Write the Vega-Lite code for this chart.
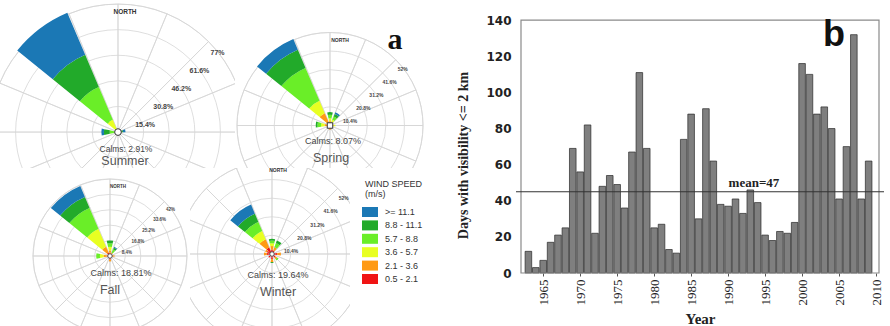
{
"$schema": "https://vega.github.io/schema/vega-lite/v6.json",
"padding": 0,
"config": {"view": {"stroke": null}, "font": "Liberation Sans",
 "axisY": {"tickCount": 8, "labelOverlap": false, "labelFlush": false, "labelFont": "DejaVu Sans", "labelFontWeight": "bold", "labelFontSize": 12, "labelColor": "#222", "labelPadding": 5, "ticks": false, "domain": false, "grid": false, "titleFont": "Liberation Serif", "titleFontWeight": "bold", "titleFontSize": 14, "titleColor": "#222", "titlePadding": 15, "titleY": 155},
 "axisX": {"tickCount": 10, "format": "d", "labelAngle": -90, "labelFont": "Liberation Serif", "labelFontSize": 13, "labelColor": "#222", "labelPadding": 3, "labelFlush": false, "labelOverlap": false, "ticks": true, "tickSize": 3, "tickColor": "#555", "domain": false, "grid": false, "titleFont": "Liberation Serif", "titleFontSize": 15, "titleFontWeight": "bold", "titleColor": "#222", "titlePadding": 6}
},
"datasets": {
"spokes": [{"a0":0,"a1":22.5},{"a0":22.5,"a1":45},{"a0":45,"a1":67.5},{"a0":67.5,"a1":90},{"a0":90,"a1":112.5},{"a0":112.5,"a1":135},{"a0":135,"a1":157.5},{"a0":157.5,"a1":180},{"a0":180,"a1":202.5},{"a0":202.5,"a1":225},{"a0":225,"a1":247.5},{"a0":247.5,"a1":270},{"a0":270,"a1":292.5},{"a0":292.5,"a1":315},{"a0":315,"a1":337.5},{"a0":337.5,"a1":360}],
"rings": [
{"s":"Summer","r":15.4,"lbl":"15.4%"},{"s":"Summer","r":30.8,"lbl":"30.8%"},{"s":"Summer","r":46.2,"lbl":"46.2%"},{"s":"Summer","r":61.6,"lbl":"61.6%"},{"s":"Summer","r":77,"lbl":"77%"},
{"s":"Spring","r":10.4,"lbl":"10.4%"},{"s":"Spring","r":20.8,"lbl":"20.8%"},{"s":"Spring","r":31.2,"lbl":"31.2%"},{"s":"Spring","r":41.6,"lbl":"41.6%"},{"s":"Spring","r":52,"lbl":"52%"},
{"s":"Fall","r":8.4,"lbl":"8.4%"},{"s":"Fall","r":16.8,"lbl":"16.8%"},{"s":"Fall","r":25.2,"lbl":"25.2%"},{"s":"Fall","r":33.6,"lbl":"33.6%"},{"s":"Fall","r":42,"lbl":"42%"},
{"s":"Winter","r":10.4,"lbl":"10.4%"},{"s":"Winter","r":20.8,"lbl":"20.8%"},{"s":"Winter","r":31.2,"lbl":"31.2%"},{"s":"Winter","r":41.6,"lbl":"41.6%"},{"s":"Winter","r":52,"lbl":"52%"}],
"rose": [
{"s":"Summer","a0":309,"a1":337,"c":"2.1 - 3.6","r0":0,"r1":1.5},
{"s":"Summer","a0":309,"a1":337,"c":"3.6 - 5.7","r0":1.5,"r1":8},
{"s":"Summer","a0":309,"a1":337,"c":"5.7 - 8.8","r0":8,"r1":29.5},
{"s":"Summer","a0":309,"a1":337,"c":"8.8 - 11.1","r0":29.5,"r1":50.5},
{"s":"Summer","a0":309,"a1":337,"c":">= 11.1","r0":50.5,"r1":78},
{"s":"Summer","a0":258,"a1":282,"c":"3.6 - 5.7","r0":0,"r1":2},
{"s":"Summer","a0":258,"a1":282,"c":"5.7 - 8.8","r0":2,"r1":5},
{"s":"Summer","a0":258,"a1":282,"c":"8.8 - 11.1","r0":5,"r1":8.5},
{"s":"Summer","a0":258,"a1":282,"c":">= 11.1","r0":8.5,"r1":10},
{"s":"Summer","a0":68,"a1":92,"c":"5.7 - 8.8","r0":0,"r1":2},
{"s":"Summer","a0":68,"a1":92,"c":"8.8 - 11.1","r0":2,"r1":3},
{"s":"Summer","a0":68,"a1":92,"c":">= 11.1","r0":3,"r1":4.5},
{"s":"Spring","a0":309,"a1":337,"c":"0.5 - 2.1","r0":0,"r1":1},
{"s":"Spring","a0":309,"a1":337,"c":"2.1 - 3.6","r0":1,"r1":7.5},
{"s":"Spring","a0":309,"a1":337,"c":"3.6 - 5.7","r0":7.5,"r1":15},
{"s":"Spring","a0":309,"a1":337,"c":"5.7 - 8.8","r0":15,"r1":35},
{"s":"Spring","a0":309,"a1":337,"c":"8.8 - 11.1","r0":35,"r1":46},
{"s":"Spring","a0":309,"a1":337,"c":">= 11.1","r0":46,"r1":52.5},
{"s":"Spring","a0":-12,"a1":12,"c":"0.5 - 2.1","r0":0,"r1":1},
{"s":"Spring","a0":-12,"a1":12,"c":"2.1 - 3.6","r0":1,"r1":2.5},
{"s":"Spring","a0":-12,"a1":12,"c":"3.6 - 5.7","r0":2.5,"r1":4},
{"s":"Spring","a0":-12,"a1":12,"c":"5.7 - 8.8","r0":4,"r1":6},
{"s":"Spring","a0":-12,"a1":12,"c":"8.8 - 11.1","r0":6,"r1":7.5},
{"s":"Spring","a0":22,"a1":44,"c":"2.1 - 3.6","r0":0,"r1":2},
{"s":"Spring","a0":22,"a1":44,"c":"3.6 - 5.7","r0":2,"r1":3.5},
{"s":"Spring","a0":22,"a1":44,"c":"5.7 - 8.8","r0":3.5,"r1":5.5},
{"s":"Spring","a0":22,"a1":44,"c":"8.8 - 11.1","r0":5.5,"r1":7},
{"s":"Spring","a0":22,"a1":44,"c":">= 11.1","r0":7,"r1":8},
{"s":"Spring","a0":262,"a1":286,"c":"2.1 - 3.6","r0":0,"r1":3},
{"s":"Spring","a0":262,"a1":286,"c":"3.6 - 5.7","r0":3,"r1":5},
{"s":"Spring","a0":262,"a1":286,"c":"5.7 - 8.8","r0":5,"r1":7},
{"s":"Spring","a0":262,"a1":286,"c":"8.8 - 11.1","r0":7,"r1":8},
{"s":"Spring","a0":80,"a1":100,"c":"2.1 - 3.6","r0":0,"r1":2},
{"s":"Spring","a0":80,"a1":100,"c":"3.6 - 5.7","r0":2,"r1":3},
{"s":"Spring","a0":170,"a1":190,"c":"0.5 - 2.1","r0":0,"r1":1.5},
{"s":"Spring","a0":170,"a1":190,"c":"2.1 - 3.6","r0":1.5,"r1":2.5},
{"s":"Fall","a0":309,"a1":337,"c":"0.5 - 2.1","r0":0,"r1":2},
{"s":"Fall","a0":309,"a1":337,"c":"2.1 - 3.6","r0":2,"r1":5.5},
{"s":"Fall","a0":309,"a1":337,"c":"3.6 - 5.7","r0":5.5,"r1":16},
{"s":"Fall","a0":309,"a1":337,"c":"5.7 - 8.8","r0":16,"r1":28.5},
{"s":"Fall","a0":309,"a1":337,"c":"8.8 - 11.1","r0":28.5,"r1":35},
{"s":"Fall","a0":309,"a1":337,"c":">= 11.1","r0":35,"r1":41.5},
{"s":"Fall","a0":-12,"a1":12,"c":"0.5 - 2.1","r0":0,"r1":1.5},
{"s":"Fall","a0":-12,"a1":12,"c":"2.1 - 3.6","r0":1.5,"r1":3},
{"s":"Fall","a0":-12,"a1":12,"c":"3.6 - 5.7","r0":3,"r1":5},
{"s":"Fall","a0":-12,"a1":12,"c":"5.7 - 8.8","r0":5,"r1":7},
{"s":"Fall","a0":-12,"a1":12,"c":"8.8 - 11.1","r0":7,"r1":8.5},
{"s":"Fall","a0":25,"a1":45,"c":"2.1 - 3.6","r0":0,"r1":2},
{"s":"Fall","a0":25,"a1":45,"c":"5.7 - 8.8","r0":2,"r1":4},
{"s":"Fall","a0":25,"a1":45,"c":"8.8 - 11.1","r0":4,"r1":5},
{"s":"Fall","a0":25,"a1":45,"c":">= 11.1","r0":5,"r1":5.5},
{"s":"Fall","a0":258,"a1":282,"c":"0.5 - 2.1","r0":0,"r1":1.5},
{"s":"Fall","a0":258,"a1":282,"c":"2.1 - 3.6","r0":1.5,"r1":3.5},
{"s":"Fall","a0":258,"a1":282,"c":"3.6 - 5.7","r0":3.5,"r1":5.5},
{"s":"Fall","a0":258,"a1":282,"c":"5.7 - 8.8","r0":5.5,"r1":7.5},
{"s":"Fall","a0":168,"a1":192,"c":"0.5 - 2.1","r0":0,"r1":2},
{"s":"Fall","a0":168,"a1":192,"c":"2.1 - 3.6","r0":2,"r1":3},
{"s":"Fall","a0":80,"a1":100,"c":"0.5 - 2.1","r0":0,"r1":1.5},
{"s":"Fall","a0":80,"a1":100,"c":"2.1 - 3.6","r0":1.5,"r1":2.5},
{"s":"Winter","a0":309,"a1":337,"c":"0.5 - 2.1","r0":0,"r1":4},
{"s":"Winter","a0":309,"a1":337,"c":"2.1 - 3.6","r0":4,"r1":9},
{"s":"Winter","a0":309,"a1":337,"c":"3.6 - 5.7","r0":9,"r1":14},
{"s":"Winter","a0":309,"a1":337,"c":"5.7 - 8.8","r0":14,"r1":19.5},
{"s":"Winter","a0":309,"a1":337,"c":"8.8 - 11.1","r0":19.5,"r1":24.5},
{"s":"Winter","a0":309,"a1":337,"c":">= 11.1","r0":24.5,"r1":30},
{"s":"Winter","a0":-12,"a1":12,"c":"0.5 - 2.1","r0":0,"r1":2.5},
{"s":"Winter","a0":-12,"a1":12,"c":"2.1 - 3.6","r0":2.5,"r1":4.5},
{"s":"Winter","a0":-12,"a1":12,"c":"3.6 - 5.7","r0":4.5,"r1":6},
{"s":"Winter","a0":-12,"a1":12,"c":"5.7 - 8.8","r0":6,"r1":7.5},
{"s":"Winter","a0":-12,"a1":12,"c":"8.8 - 11.1","r0":7.5,"r1":8.5},
{"s":"Winter","a0":20,"a1":42,"c":"0.5 - 2.1","r0":0,"r1":2},
{"s":"Winter","a0":20,"a1":42,"c":"2.1 - 3.6","r0":2,"r1":4},
{"s":"Winter","a0":20,"a1":42,"c":"5.7 - 8.8","r0":4,"r1":6.5},
{"s":"Winter","a0":20,"a1":42,"c":"8.8 - 11.1","r0":6.5,"r1":8},
{"s":"Winter","a0":80,"a1":100,"c":"0.5 - 2.1","r0":0,"r1":3},
{"s":"Winter","a0":80,"a1":100,"c":"2.1 - 3.6","r0":3,"r1":5},
{"s":"Winter","a0":125,"a1":145,"c":"0.5 - 2.1","r0":0,"r1":2.5},
{"s":"Winter","a0":125,"a1":145,"c":"2.1 - 3.6","r0":2.5,"r1":3.5},
{"s":"Winter","a0":125,"a1":145,"c":"5.7 - 8.8","r0":3.5,"r1":4.5},
{"s":"Winter","a0":170,"a1":190,"c":"0.5 - 2.1","r0":0,"r1":3},
{"s":"Winter","a0":170,"a1":190,"c":"2.1 - 3.6","r0":3,"r1":4.5},
{"s":"Winter","a0":170,"a1":190,"c":"8.8 - 11.1","r0":4.5,"r1":5},
{"s":"Winter","a0":215,"a1":235,"c":"0.5 - 2.1","r0":0,"r1":2.5},
{"s":"Winter","a0":260,"a1":280,"c":"0.5 - 2.1","r0":0,"r1":3},
{"s":"Winter","a0":260,"a1":280,"c":"2.1 - 3.6","r0":3,"r1":4.5},
{"s":"Winter","a0":288,"a1":306,"c":"0.5 - 2.1","r0":0,"r1":3},
{"s":"Winter","a0":288,"a1":306,"c":"2.1 - 3.6","r0":3,"r1":4}],
"bars": [
{"year":1963,"days":12},{"year":1964,"days":3},{"year":1965,"days":7},{"year":1966,"days":17},{"year":1967,"days":21},{"year":1968,"days":25},{"year":1969,"days":69},{"year":1970,"days":56},{"year":1971,"days":82},{"year":1972,"days":22},{"year":1973,"days":48},{"year":1974,"days":54},{"year":1975,"days":49},{"year":1976,"days":36},{"year":1977,"days":67},{"year":1978,"days":111},{"year":1979,"days":69},{"year":1980,"days":25},{"year":1981,"days":27},{"year":1982,"days":13},{"year":1983,"days":11},{"year":1984,"days":74},{"year":1985,"days":88},{"year":1986,"days":30},{"year":1987,"days":91},{"year":1988,"days":62},{"year":1989,"days":38},{"year":1990,"days":37},{"year":1991,"days":41},{"year":1992,"days":33},{"year":1993,"days":46},{"year":1994,"days":39},{"year":1995,"days":21},{"year":1996,"days":18},{"year":1997,"days":23},{"year":1998,"days":22},{"year":1999,"days":28},{"year":2000,"days":116},{"year":2001,"days":110},{"year":2002,"days":88},{"year":2003,"days":92},{"year":2004,"days":80},{"year":2005,"days":41},{"year":2006,"days":70},{"year":2007,"days":132},{"year":2008,"days":41},{"year":2009,"days":62}]
},
"hconcat": [
{
"vconcat": [
{"hconcat": [
{
"width": 235, "height": 168,
"encoding": {
"x": {"datum": 0, "type": "quantitative", "scale": {"domain": [-71, 70.4], "nice": false, "zero": false}, "axis": null},
"y": {"datum": 0, "type": "quantitative", "scale": {"domain": [-21.6, 79.4], "nice": false, "zero": false}, "axis": null}
},
"layer": [
{"data": {"name": "spokes"}, "mark": {"type": "arc", "filled": false, "stroke": "#d6d6d6", "strokeWidth": 0.8, "clip": true},
 "encoding": {"theta": {"field": "a0", "type": "quantitative", "stack": null, "scale": {"domain": [0, 360], "range": [0, 6.283185], "zero": false, "nice": false}}, "theta2": {"field": "a1"},
 "radius": {"datum": 77, "type": "quantitative", "scale": {"type": "linear", "domain": [0, 77], "range": [0, 128], "zero": true, "nice": false}}}},
{"data": {"name": "rings"}, "transform": [{"filter": "datum.s === 'Summer'"}], "mark": {"type": "arc", "filled": false, "stroke": "#d6d6d6", "strokeWidth": 0.8, "theta": 0, "theta2": 6.2832, "clip": true},
 "encoding": {"radius": {"field": "r", "type": "quantitative", "stack": null}}},
{"data": {"name": "rose"}, "transform": [{"filter": "datum.s === 'Summer'"}], "mark": {"type": "arc", "clip": true},
 "encoding": {"theta": {"field": "a0", "type": "quantitative", "stack": null}, "theta2": {"field": "a1"},
 "radius": {"field": "r1", "type": "quantitative", "stack": null}, "radius2": {"field": "r0"},
 "color": {"field": "c", "type": "nominal", "scale": {"domain": [">= 11.1", "8.8 - 11.1", "5.7 - 8.8", "3.6 - 5.7", "2.1 - 3.6", "0.5 - 2.1"], "range": ["#1b78b5", "#22aa2a", "#6aee28", "#e8ff22", "#ff9a14", "#f01414"]},
  "legend": {"orient": "none", "legendX": 365, "legendY": 180, "title": ["WIND SPEED", "(m/s)"], "titleFont": "Liberation Sans", "titleFontSize": 9, "titleFontWeight": "normal", "titleColor": "#333", "titlePadding": 8, "titleLineHeight": 10, "labelFont": "Liberation Sans", "labelFontSize": 9, "labelColor": "#333", "labelOffset": 10, "symbolType": "M-1.6,-1H1.6V1H-1.6Z", "symbolSize": 100, "symbolStrokeWidth": 0, "rowPadding": 3.4, "padding": 0}}}},
{"data": {"name": "rings"}, "transform": [{"filter": "datum.s === 'Summer'"}], "mark": {"type": "text", "font": "Liberation Sans", "fontWeight": "bold", "fontSize": 7, "color": "#444", "dx": 9, "dy": 11},
 "encoding": {"theta": {"datum": 45, "type": "quantitative"}, "radius": {"field": "r", "type": "quantitative"}, "text": {"field": "lbl"}}},
{"data": {"values": [{}]}, "mark": {"type": "point", "shape": "circle", "filled": true, "fill": "white", "stroke": "#333", "strokeWidth": 1, "size": 45, "opacity": 1}},
{"data": {"values": [{}]}, "mark": {"type": "text", "text": "NORTH", "font": "Liberation Sans", "fontWeight": "bold", "fontSize": 6.5, "color": "#333"}, "encoding": {"x": {"datum": 4.2}, "y": {"datum": 72.2}}},
{"data": {"values": [{}]}, "mark": {"type": "text", "text": "Calms: 2.91%", "font": "Liberation Sans", "fontSize": 8.5, "color": "#444"}, "encoding": {"x": {"datum": 4.8}, "y": {"datum": -10.2}}},
{"data": {"values": [{}]}, "mark": {"type": "text", "text": "Summer", "font": "Liberation Sans", "fontSize": 12.5, "color": "#555"}, "encoding": {"x": {"datum": 4.2}, "y": {"datum": -17.6}}}
]
},
{
"width": 205, "height": 168,
"encoding": {
"x": {"datum": 0, "type": "quantitative", "scale": {"domain": [-53.07, 61.45], "nice": false, "zero": false}, "axis": null},
"y": {"datum": 0, "type": "quantitative", "scale": {"domain": [-23.74, 70.11], "nice": false, "zero": false}, "axis": null}
},
"layer": [
{"data": {"name": "spokes"}, "mark": {"type": "arc", "filled": false, "stroke": "#d6d6d6", "strokeWidth": 0.8, "clip": true},
 "encoding": {"theta": {"field": "a0", "type": "quantitative", "stack": null, "scale": {"domain": [0, 360], "range": [0, 6.283185], "zero": false, "nice": false}}, "theta2": {"field": "a1"},
 "radius": {"datum": 52, "type": "quantitative", "scale": {"type": "linear", "domain": [0, 52], "range": [0, 93], "zero": true, "nice": false}}}},
{"data": {"name": "rings"}, "transform": [{"filter": "datum.s === 'Spring'"}], "mark": {"type": "arc", "filled": false, "stroke": "#d6d6d6", "strokeWidth": 0.8, "theta": 0, "theta2": 6.2832, "clip": true},
 "encoding": {"radius": {"field": "r", "type": "quantitative", "stack": null}}},
{"data": {"name": "rose"}, "transform": [{"filter": "datum.s === 'Spring'"}], "mark": {"type": "arc", "clip": true},
 "encoding": {"theta": {"field": "a0", "type": "quantitative", "stack": null}, "theta2": {"field": "a1"},
 "radius": {"field": "r1", "type": "quantitative", "stack": null}, "radius2": {"field": "r0"},
 "color": {"field": "c", "type": "nominal", "scale": {"domain": [">= 11.1", "8.8 - 11.1", "5.7 - 8.8", "3.6 - 5.7", "2.1 - 3.6", "0.5 - 2.1"], "range": ["#1b78b5", "#22aa2a", "#6aee28", "#e8ff22", "#ff9a14", "#f01414"]},
  "legend": {"orient": "none", "legendX": 365, "legendY": 180, "title": ["WIND SPEED", "(m/s)"], "titleFont": "Liberation Sans", "titleFontSize": 9, "titleFontWeight": "normal", "titleColor": "#333", "titlePadding": 8, "titleLineHeight": 10, "labelFont": "Liberation Sans", "labelFontSize": 9, "labelColor": "#333", "labelOffset": 10, "symbolType": "M-1.6,-1H1.6V1H-1.6Z", "symbolSize": 100, "symbolStrokeWidth": 0, "rowPadding": 3.4, "padding": 0}}}},
{"data": {"name": "rings"}, "transform": [{"filter": "datum.s === 'Spring'"}], "mark": {"type": "text", "font": "Liberation Sans", "fontWeight": "bold", "fontSize": 5, "color": "#444", "dx": 7, "dy": 9},
 "encoding": {"theta": {"datum": 45, "type": "quantitative"}, "radius": {"field": "r", "type": "quantitative"}, "text": {"field": "lbl"}}},
{"data": {"values": [{}]}, "mark": {"type": "point", "shape": "square", "filled": true, "fill": "white", "stroke": "#333", "strokeWidth": 1, "size": 30, "opacity": 1}},
{"data": {"values": [{}]}, "mark": {"type": "text", "text": "NORTH", "font": "Liberation Sans", "fontWeight": "bold", "fontSize": 5, "color": "#333"}, "encoding": {"x": {"datum": 5.6}, "y": {"datum": 47.8}}},
{"data": {"values": [{}]}, "mark": {"type": "text", "text": "Calms: 8.07%", "font": "Liberation Sans", "fontSize": 9, "color": "#444"}, "encoding": {"x": {"datum": 1.7}, "y": {"datum": -8.7}}},
{"data": {"values": [{}]}, "mark": {"type": "text", "text": "Spring", "font": "Liberation Sans", "fontSize": 12.5, "color": "#555"}, "encoding": {"x": {"datum": 0.6}, "y": {"datum": -18.2}}},
{"data": {"values": [{}]}, "mark": {"type": "text", "text": "a", "font": "Liberation Serif", "fontWeight": "bold", "fontSize": 30, "color": "#111"}, "encoding": {"x": {"datum": 36.3}, "y": {"datum": 47.8}}}
]
}
], "spacing": 0, "bounds": "flush"},
{"hconcat": [
{
"width": 190, "height": 158,
"encoding": {
"x": {"datum": 0, "type": "quantitative", "scale": {"domain": [-60, 43.65], "nice": false, "zero": false}, "axis": null},
"y": {"datum": 0, "type": "quantitative", "scale": {"domain": [-38.19, 48], "nice": false, "zero": false}, "axis": null}
},
"layer": [
{"data": {"name": "spokes"}, "mark": {"type": "arc", "filled": false, "stroke": "#d6d6d6", "strokeWidth": 0.8, "clip": true},
 "encoding": {"theta": {"field": "a0", "type": "quantitative", "stack": null, "scale": {"domain": [0, 360], "range": [0, 6.283185], "zero": false, "nice": false}}, "theta2": {"field": "a1"},
 "radius": {"datum": 42, "type": "quantitative", "scale": {"type": "linear", "domain": [0, 42], "range": [0, 77], "zero": true, "nice": false}}}},
{"data": {"name": "rings"}, "transform": [{"filter": "datum.s === 'Fall'"}], "mark": {"type": "arc", "filled": false, "stroke": "#d6d6d6", "strokeWidth": 0.8, "theta": 0, "theta2": 6.2832, "clip": true},
 "encoding": {"radius": {"field": "r", "type": "quantitative", "stack": null}}},
{"data": {"name": "rose"}, "transform": [{"filter": "datum.s === 'Fall'"}], "mark": {"type": "arc", "clip": true},
 "encoding": {"theta": {"field": "a0", "type": "quantitative", "stack": null}, "theta2": {"field": "a1"},
 "radius": {"field": "r1", "type": "quantitative", "stack": null}, "radius2": {"field": "r0"},
 "color": {"field": "c", "type": "nominal", "scale": {"domain": [">= 11.1", "8.8 - 11.1", "5.7 - 8.8", "3.6 - 5.7", "2.1 - 3.6", "0.5 - 2.1"], "range": ["#1b78b5", "#22aa2a", "#6aee28", "#e8ff22", "#ff9a14", "#f01414"]},
  "legend": {"orient": "none", "legendX": 365, "legendY": 180, "title": ["WIND SPEED", "(m/s)"], "titleFont": "Liberation Sans", "titleFontSize": 9, "titleFontWeight": "normal", "titleColor": "#333", "titlePadding": 8, "titleLineHeight": 10, "labelFont": "Liberation Sans", "labelFontSize": 9, "labelColor": "#333", "labelOffset": 10, "symbolType": "M-1.6,-1H1.6V1H-1.6Z", "symbolSize": 100, "symbolStrokeWidth": 0, "rowPadding": 3.4, "padding": 0}}}},
{"data": {"name": "rings"}, "transform": [{"filter": "datum.s === 'Fall'"}], "mark": {"type": "text", "font": "Liberation Sans", "fontWeight": "bold", "fontSize": 4.5, "color": "#444", "dx": 6, "dy": 8},
 "encoding": {"theta": {"datum": 45, "type": "quantitative"}, "radius": {"field": "r", "type": "quantitative"}, "text": {"field": "lbl"}}},
{"data": {"values": [{}]}, "mark": {"type": "point", "shape": "circle", "filled": true, "fill": "white", "stroke": "#333", "strokeWidth": 0.8, "size": 20, "opacity": 1}},
{"data": {"values": [{}]}, "mark": {"type": "text", "text": "NORTH", "font": "Liberation Sans", "fontWeight": "bold", "fontSize": 4.5, "color": "#333"}, "encoding": {"x": {"datum": 4.4}, "y": {"datum": 37.6}}},
{"data": {"values": [{}]}, "mark": {"type": "text", "text": "Calms: 18.81%", "font": "Liberation Sans", "fontSize": 9, "color": "#444"}, "encoding": {"x": {"datum": 6}, "y": {"datum": -9.3}}},
{"data": {"values": [{}]}, "mark": {"type": "text", "text": "Fall", "font": "Liberation Sans", "fontSize": 12.5, "color": "#555"}, "encoding": {"x": {"datum": 0}, "y": {"datum": -18.5}}}
]
},
{
"width": 160, "height": 158,
"encoding": {
"x": {"datum": 0, "type": "quantitative", "scale": {"domain": [-45.81, 43.58], "nice": false, "zero": false}, "axis": null},
"y": {"datum": 0, "type": "quantitative", "scale": {"domain": [-40.22, 48.04], "nice": false, "zero": false}, "axis": null}
},
"layer": [
{"data": {"name": "spokes"}, "mark": {"type": "arc", "filled": false, "stroke": "#d6d6d6", "strokeWidth": 0.8, "clip": true},
 "encoding": {"theta": {"field": "a0", "type": "quantitative", "stack": null, "scale": {"domain": [0, 360], "range": [0, 6.283185], "zero": false, "nice": false}}, "theta2": {"field": "a1"},
 "radius": {"datum": 52, "type": "quantitative", "scale": {"type": "linear", "domain": [0, 52], "range": [0, 93], "zero": true, "nice": false}}}},
{"data": {"name": "rings"}, "transform": [{"filter": "datum.s === 'Winter'"}], "mark": {"type": "arc", "filled": false, "stroke": "#d6d6d6", "strokeWidth": 0.8, "theta": 0, "theta2": 6.2832, "clip": true},
 "encoding": {"radius": {"field": "r", "type": "quantitative", "stack": null}}},
{"data": {"name": "rose"}, "transform": [{"filter": "datum.s === 'Winter'"}], "mark": {"type": "arc", "clip": true},
 "encoding": {"theta": {"field": "a0", "type": "quantitative", "stack": null}, "theta2": {"field": "a1"},
 "radius": {"field": "r1", "type": "quantitative", "stack": null}, "radius2": {"field": "r0"},
 "color": {"field": "c", "type": "nominal", "scale": {"domain": [">= 11.1", "8.8 - 11.1", "5.7 - 8.8", "3.6 - 5.7", "2.1 - 3.6", "0.5 - 2.1"], "range": ["#1b78b5", "#22aa2a", "#6aee28", "#e8ff22", "#ff9a14", "#f01414"]},
  "legend": {"orient": "none", "legendX": 365, "legendY": 180, "title": ["WIND SPEED", "(m/s)"], "titleFont": "Liberation Sans", "titleFontSize": 9, "titleFontWeight": "normal", "titleColor": "#333", "titlePadding": 8, "titleLineHeight": 10, "labelFont": "Liberation Sans", "labelFontSize": 9, "labelColor": "#333", "labelOffset": 10, "symbolType": "M-1.6,-1H1.6V1H-1.6Z", "symbolSize": 100, "symbolStrokeWidth": 0, "rowPadding": 3.4, "padding": 0}}}},
{"data": {"name": "rings"}, "transform": [{"filter": "datum.s === 'Winter'"}], "mark": {"type": "text", "font": "Liberation Sans", "fontWeight": "bold", "fontSize": 5, "color": "#444", "dx": 6, "dy": 10},
 "encoding": {"theta": {"datum": 45, "type": "quantitative"}, "radius": {"field": "r", "type": "quantitative"}, "text": {"field": "lbl"}}},
{"data": {"values": [{}]}, "mark": {"type": "point", "shape": "circle", "filled": true, "fill": "white", "stroke": "#333", "strokeWidth": 0.8, "size": 20, "opacity": 1}},
{"data": {"values": [{}]}, "mark": {"type": "text", "text": "NORTH", "font": "Liberation Sans", "fontWeight": "bold", "fontSize": 5, "color": "#333"}, "encoding": {"x": {"datum": 3.4}, "y": {"datum": 46.9}}},
{"data": {"values": [{}]}, "mark": {"type": "text", "text": "Calms: 19.64%", "font": "Liberation Sans", "fontSize": 9, "color": "#444"}, "encoding": {"x": {"datum": 3.4}, "y": {"datum": -11.7}}},
{"data": {"values": [{}]}, "mark": {"type": "text", "text": "Winter", "font": "Liberation Sans", "fontSize": 12.5, "color": "#555"}, "encoding": {"x": {"datum": 3.4}, "y": {"datum": -21.2}}}
]
}
], "spacing": 0, "bounds": "flush"}
], "spacing": 0, "bounds": "full"
},
{
"width": 368, "height": 273,
"layer": [
{"data": {"name": "bars"}, "mark": {"type": "bar", "size": 6.6, "fill": "#7f7f7f", "stroke": "#2a2a2a", "strokeWidth": 0.7},
 "encoding": {
 "x": {"field": "year", "type": "quantitative", "scale": {"domain": [1962, 2010.4], "nice": false, "zero": false}, "title": "Year"},
 "y": {"field": "days", "type": "quantitative", "scale": {"domain": [0, 151.2], "nice": false}, "title": "Days with visibility <= 2 km"}
 }},
{"data": {"values": [{}]}, "mark": {"type": "rect", "filled": false, "stroke": "#8a8a8a", "strokeWidth": 1.2},
 "encoding": {"x": {"datum": 1962}, "x2": {"datum": 2010.4}, "y": {"datum": 0}, "y2": {"datum": 140}}},
{"data": {"values": [{}]}, "mark": {"type": "rule", "color": "#333", "strokeWidth": 1}, "encoding": {"y": {"datum": 45}}},
{"data": {"values": [{}]}, "mark": {"type": "text", "text": "mean=47", "font": "Liberation Serif", "fontWeight": "bold", "fontSize": 13, "color": "#222"}, "encoding": {"x": {"datum": 1993.5}, "y": {"datum": 49.7}}},
{"data": {"values": [{}]}, "mark": {"type": "text", "text": "b", "font": "Liberation Sans", "fontWeight": "bold", "fontSize": 36, "color": "#111"}, "encoding": {"x": {"datum": 2004.3}, "y": {"datum": 131.7}}}
]
}
],
"spacing": 16
}
